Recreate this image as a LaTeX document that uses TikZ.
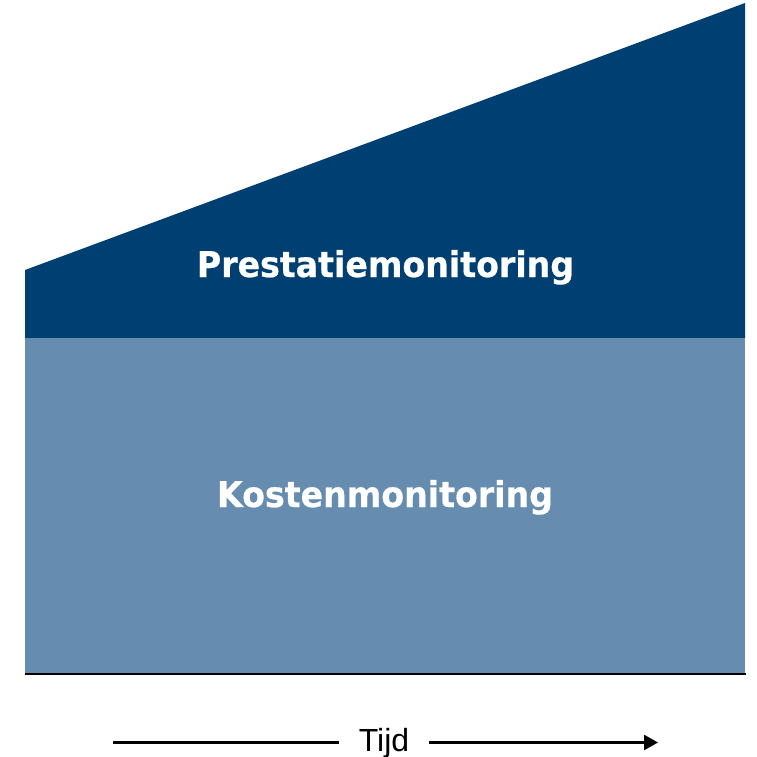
\documentclass[tikz,border=0pt]{standalone}
\usepackage{fontspec}
\setmainfont{Liberation Sans}
\newfontfamily\blockfont[FakeStretch=0.935, FakeBold=0.6]{DejaVu Sans}
\usepackage{tikz}
\usetikzlibrary{arrows.meta, positioning}
\definecolor{darkblue}{HTML}{003F71}
\definecolor{lightblue}{HTML}{668DAF}

\begin{document}
\begin{tikzpicture}[
    x=1pt, y=-1pt,
    blocklabel/.style={
        anchor=base,
        text=white,
        font=\blockfont\bfseries\fontsize{35.5}{38}\selectfont,
        inner sep=0pt
    },
    timelabel/.style={
        anchor=base,
        font=\fontsize{32}{35}\selectfont,
        inner xsep=20pt,
        inner ysep=0pt
    },
    baseline/.style={line width=2.5pt, color=black},
    timearrow/.style={line width=2.6pt, -{Triangle[length=14pt, width=15pt]}}
]

% Canvas
\useasboundingbox (0,0) rectangle (756,757);

% Blocks
\fill[darkblue] (25,270) -- (745,3) -- (745,338) -- (25,338) -- cycle;
\fill[lightblue] (25,338) rectangle (745,673);
\draw[baseline] (25,674.2) -- (746,674.2);

% Labels
\node[blocklabel] (perf) at (385.5,277) {Prestatiemonitoring};
\node[blocklabel] (cost) at (385,507) {Kostenmonitoring};

% Time axis
\node[timelabel] (tijd) at (384,751) {Tijd};
\coordinate (tstart) at (113,742.5);
\coordinate (tend) at (658,742.5);
\draw[line width=2.6pt] (tstart) -- (tstart -| tijd.west);
\draw[timearrow] (tend -| tijd.east) -- (tend);

\end{tikzpicture}
\end{document}
